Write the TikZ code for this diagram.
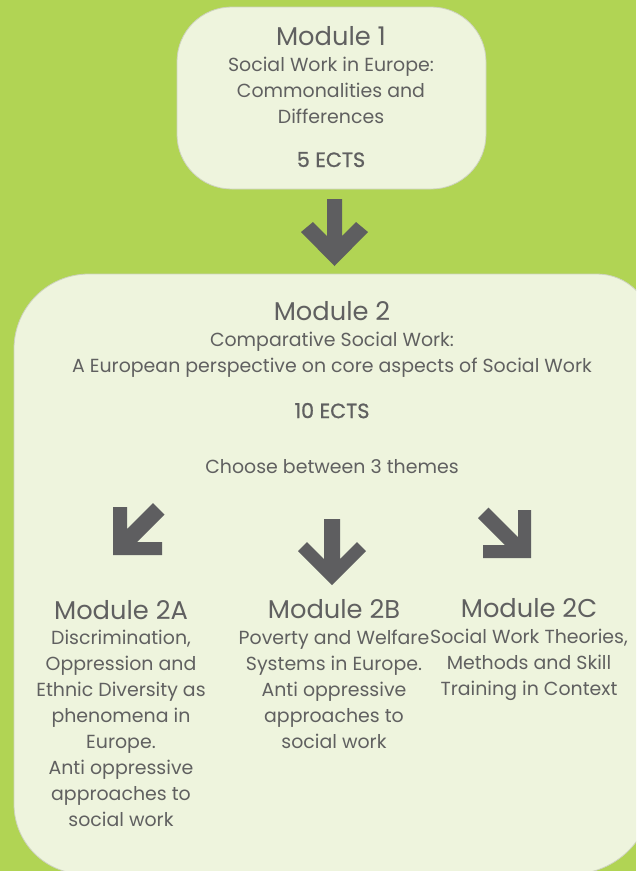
\documentclass[tikz,border=0pt]{standalone}
\usepackage{fontspec}
\setmainfont{Poppins}
\newfontfamily\ectsfamily[FakeBold=1]{Poppins}
\definecolor{bggreen}{RGB}{177,212,84}
\definecolor{boxfill}{RGB}{238,244,221}
\definecolor{boxline}{RGB}{205,210,190}
\definecolor{textgray}{RGB}{96,96,96}
\definecolor{arrowgray}{RGB}{94,94,96}
\newcommand\modhead{\fontsize{19.3}{19.4}\selectfont}
\newcommand\modbody{\fontsize{14.2}{19.4}\selectfont}
\newcommand\modects{\ectsfamily\fontsize{15.5}{19.4}\selectfont}
\tikzset{
    modbox/.style = {draw=boxline, fill=boxfill, line width=0.6pt},
    blockarrow/.style = {fill=arrowgray},
    modtext/.style = {align=center, text=textgray, font=\modbody, inner sep=0pt, anchor=base},
}

\begin{document}
\begin{tikzpicture}[x=0.75pt, y=-0.75pt]
\useasboundingbox (0,0) rectangle (636,871);
\fill[bggreen] (0,0) rectangle (636,871);
\clip (0,0) rectangle (636,871);

% boxes
\draw[modbox, rounded corners=41pt] (177,7) rectangle (486,189);
\draw[modbox] (14,349) arc[start angle=180, end angle=90, radius=56.25pt] -- (597,274)
    arc[start angle=90, end angle=0, radius=41.25pt] -- (652,794)
    arc[start angle=0, end angle=-90, radius=60pt] -- (84,874)
    arc[start angle=-90, end angle=-180, radius=52.5pt] -- cycle;

% arrows
\fill[blockarrow] (327,199) -- (342,199) -- (342,236) -- (356,222) -- (368,232) -- (334.5,266)
    -- (301,232) -- (313,222) -- (327,236) -- cycle;
\fill[blockarrow] (113,507) -- (127,507) -- (127,529) -- (153,503) -- (164.5,514.5) -- (137,542)
    -- (162,542) -- (162,555) -- (113,555) -- cycle;
\fill[blockarrow] (324,519) -- (340,519) -- (340,559) -- (357,542) -- (366,551) -- (332,585)
    -- (298,551) -- (307,542) -- (324,559) -- cycle;
\fill[blockarrow] (488.5,507.5) -- (518,537) -- (518,510) -- (531,510) -- (531,558) -- (483,558)
    -- (483,545) -- (505,545) -- (478,518) -- cycle;

% texts (base = last line)
\node[modtext] at (331,167) (m1) {{\modhead Module 1}\\ Social Work in Europe:\\ Commonalities and\\ Differences\\[13.5pt] {\modects 5 ECTS}};
\node[modtext] at (332,473) (m2) {{\modhead Module 2}\\ Comparative Social Work:\\ A European perspective on core aspects of Social Work\\[15pt] {\modects 10 ECTS}\\[21.75pt] Choose between 3 themes};
\node[modtext] at (121,826) (m2a) {{\modhead Module 2A}\\ Discrimination,\\ Oppression and\\ Ethnic Diversity as\\ phenomena in\\ Europe.\\ Anti oppressive\\ approaches to\\ social work};
\node[modtext] at (334,748) (m2b) {{\modhead Module 2B}\\ Poverty and Welfare\\ Systems in Europe.\\ Anti oppressive\\ approaches to\\ social work};
\node[modtext] at (529,695) (m2c) {{\modhead Module 2C}\\ Social Work Theories,\\ Methods and Skill\\ Training in Context};

\end{tikzpicture}
\end{document}
